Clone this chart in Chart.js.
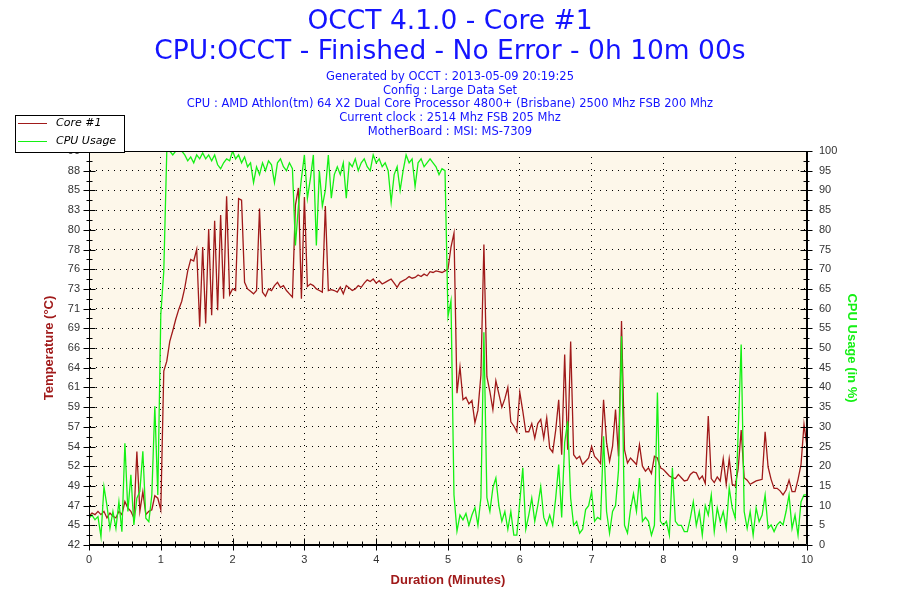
<!DOCTYPE html>
<html>
<head>
<meta charset="utf-8">
<script src="https://cdn.jsdelivr.net/npm/chart.js@4.4.0/dist/chart.umd.min.js"></script>
<style>
  html, body { margin: 0; padding: 0; background: #ffffff; }
  #wrap { width: 900px; height: 600px; }
</style>
</head>
<body>
<div id="wrap"><canvas id="c" width="900" height="600"></canvas></div>
<script>
// ---- DATA ----
const sampleSeconds = 2.5; // one sample every 2.5 s, 0 .. 10 min
const tempC = [
  45.5,45.9,45.7,46.1,45.7,46.1,45.3,45.9,45.5,45.3,
  46.1,45.7,47.3,46.5,46.1,45.3,53.4,46.1,48.5,45.7,
  46.1,46.3,48.0,47.7,46.3,63.2,64.4,66.8,68.1,69.5,
  70.7,71.7,73.3,75.4,76.8,76.6,78.0,68.6,78.3,69.0,
  80.5,70.0,81.5,70.6,82.2,72.0,84.5,72.5,73.2,73.0,
  84.2,84.0,74.0,73.2,72.9,72.6,73.0,83.0,72.8,72.3,
  73.2,73.0,73.6,74.0,73.4,73.6,73.0,72.6,72.2,83.4,
  85.5,72.0,84.4,73.5,73.8,73.6,73.2,73.0,72.8,83.3,
  73.0,73.1,73.0,72.8,73.4,72.6,73.6,73.3,73.0,73.2,
  73.6,73.4,73.9,74.3,74.1,74.4,73.9,74.2,73.8,74.0,
  74.2,74.4,73.9,73.4,74.0,74.2,74.4,74.7,74.5,74.6,
  74.9,74.7,75.0,74.8,75.3,75.2,75.4,75.3,75.2,75.4,
  75.6,78.3,80.0,60.5,63.7,59.7,60.0,59.2,59.6,56.9,
  58.4,62.7,78.6,62.5,60.7,58.5,62.0,60.4,58.8,59.8,
  61.2,57.0,56.5,55.8,60.6,58.3,55.8,55.8,56.8,55.0,
  56.8,57.3,55.0,57.5,53.8,53.3,56.0,59.7,53.0,65.2,
  53.6,66.8,53.0,52.5,52.8,51.8,52.2,52.6,54.0,52.8,
  52.4,51.9,59.7,54.5,52.2,54.0,58.5,52.8,69.3,53.6,
  52.0,52.6,52.2,51.8,54.2,51.6,51.0,51.4,50.7,52.8,
  52.6,51.4,51.2,50.8,50.4,50.2,50.1,50.6,50.2,49.8,
  49.9,50.6,50.9,50.8,50.0,50.4,49.5,57.7,50.1,49.6,
  50.3,49.8,52.5,49.4,52.5,49.4,49.2,51.3,56.0,50.2,
  49.9,49.4,49.6,49.8,49.9,50.0,55.8,51.5,50.0,48.9,
  48.9,48.6,48.1,48.7,49.9,48.5,48.5,50.0,51.8,56.7,
  54.0
];
const cpuUsage = [
  6.8,7.6,6.4,7.2,2.1,14.8,10,4.2,8.5,4.2,
  11.0,3.4,25.8,8.5,17.8,5.1,11.9,13.6,23.8,6.8,
  5.9,12.7,35.2,12.7,58.5,69.5,100,100,99,100,
  100,100,99,97.5,98.5,97,99,98,99.5,98,
  99,97.5,99,96.5,95.5,97,98,97.5,100,98,
  99,97,98.5,96,97,92,96,94,97,95,
  97.5,96.5,92,97,98,96,95,97,95.5,76,
  86,93,99,88,93,99,76,95,86,90,
  99,88,94,96,94,97,88,97,96,98,
  95,97,98,96,95,99,97,98,96,97,
  95,87,94,96,90,95,99,97,98,91,
  97,98,96,97,98,97,96,94,95.5,95,
  58,62,12.7,3.5,7.6,6.4,8,5,7.6,9.5,
  5,12,54,12,8.5,14.5,17,10,6,8.5,
  4,8.5,2.5,2.5,11,19.6,4,7.6,11.9,6,
  10,14.8,7,5,7.6,5,11.9,20.4,7,26,
  31.4,11.9,5,6,3,4,9,10,13.6,6,
  7,6.5,27.6,8.5,3,8.5,10,19,53,5,
  3,9,13,8.5,17,6,7,6,2.5,5,
  38.7,6,5,6,2.5,19.6,6,5,5,3.4,
  3.4,6.8,11,5,8.5,2.5,10,7.6,12.7,3.4,
  9.4,5.9,8.5,4.2,14.5,9.4,6.8,28.8,50.9,8.5,
  4.2,8.5,2.5,9.4,5.9,7.6,12.7,4.2,5.1,3.4,
  5.1,5.9,5.1,8.5,12.7,4.2,7.6,2.5,11,12.7,
  12.7
];
const tempTickValues = [42,44.4,46.8,49.2,51.6,54,56.4,58.8,61.2,63.6,66,68.4,70.8,73.2,75.6,78,80.4,82.8,85.2,87.6,90];
const tempTickLabels = ['42','45','47','49','52','54','57','59','61','64','66','69','71','73','76','78','80','83','85','88','90'];
const titleLines = ['OCCT 4.1.0 - Core #1', 'CPU:OCCT - Finished - No Error - 0h 10m 00s'];
const subtitleLines = [
  'Generated by OCCT : 2013-05-09 20:19:25',
  'Config : Large Data Set',
  'CPU : AMD Athlon(tm) 64 X2 Dual Core Processor 4800+ (Brisbane) 2500 Mhz FSB 200 Mhz',
  'Current clock : 2514 Mhz FSB 205 Mhz',
  'MotherBoard : MSI: MS-7309'
];

// ---- BUILD ----
const minutes = tempC.map((_, i) => i * sampleSeconds / 60);
const tempPoints = tempC.map((v, i) => ({ x: minutes[i], y: v }));
const cpuPoints = cpuUsage.map((v, i) => ({ x: minutes[i], y: v }));

const RED = '#A01A1A';
const GREEN = '#14F014';
const TICKFONT = { family: "'Liberation Sans Narrow','Liberation Sans',Arial,sans-serif", size: 11 };
const AXTITLEFONT = { family: "'Liberation Sans Narrow','Liberation Sans',Arial,sans-serif", size: 13, weight: 'bold', lineHeight: 1.2 };

const framePlugin = {
  id: 'occtFrame',
  beforeDraw(chart) {
    const { ctx, chartArea: a } = chart;
    ctx.save();
    ctx.fillStyle = '#FDF7EA';
    ctx.fillRect(a.left, a.top, a.right - a.left, a.bottom - a.top);
    ctx.restore();
  },
  afterDraw(chart) {
    const { ctx, chartArea: a, scales } = chart;
    ctx.save();
    ctx.strokeStyle = '#000';
    ctx.lineWidth = 1;
    const L = Math.round(a.left) + 0.5, R = Math.round(a.right) - 0.5;
    const T = Math.round(a.top) + 0.5, B = Math.round(a.bottom) - 0.5;
    ctx.beginPath();
    ctx.moveTo(L, B); ctx.lineTo(L, T); ctx.lineTo(R, T); ctx.lineTo(R, B); ctx.lineTo(L, B);
    ctx.stroke();
    // x ticks (major each minute, minor each 0.2 min)
    ctx.beginPath();
    for (let k = 0; k <= 50; k++) {
      const px = Math.round(scales.x.getPixelForValue(k / 5)) + 0.5;
      const len = (k % 5 === 0) ? 6 : 3;
      ctx.moveTo(px, B - len); ctx.lineTo(px, B + len);
    }
    // y ticks left and right
    const yl = scales.y;
    for (let k = 0; k < tempTickValues.length; k++) {
      const py = Math.round(yl.getPixelForValue(tempTickValues[k])) + 0.5;
      ctx.moveTo(L - 6, py); ctx.lineTo(L + 6, py);
      ctx.moveTo(R - 6, py); ctx.lineTo(R + 6, py);
      if (k < tempTickValues.length - 1) {
        const pm = Math.round(yl.getPixelForValue((tempTickValues[k] + tempTickValues[k + 1]) / 2)) + 0.5;
        ctx.moveTo(L - 3, pm); ctx.lineTo(L + 3, pm);
        ctx.moveTo(R - 3, pm); ctx.lineTo(R + 3, pm);
      }
    }
    ctx.stroke();
    // legend box
    const ds = chart.data.datasets;
    ctx.fillStyle = '#fff';
    ctx.fillRect(15.5, 115.5, 109, 37);
    ctx.strokeStyle = '#000';
    ctx.strokeRect(15.5, 115.5, 109, 37);
    ctx.font = "italic 11px 'DejaVu Sans', Verdana, sans-serif";
    ctx.textBaseline = 'middle';
    ctx.textAlign = 'left';
    ds.forEach((d, i) => {
      const y = 123.5 + i * 18;
      ctx.strokeStyle = d.borderColor;
      ctx.lineWidth = 1;
      ctx.beginPath(); ctx.moveTo(18, y); ctx.lineTo(47, y); ctx.stroke();
      ctx.fillStyle = '#000';
      ctx.fillText(d.label, 56, y);
    });
    ctx.restore();
  }
};

new Chart(document.getElementById('c'), {
  type: 'line',
  data: {
    datasets: [
      { label: 'Core #1', data: tempPoints, yAxisID: 'y', borderColor: RED, backgroundColor: RED,
        borderWidth: 1.3, pointRadius: 0, tension: 0, order: 1 },
      { label: 'CPU Usage', data: cpuPoints, yAxisID: 'y2', borderColor: GREEN, backgroundColor: GREEN,
        borderWidth: 1.3, pointRadius: 0, tension: 0, order: 0 }
    ]
  },
  options: {
    responsive: false,
    animation: false,
    devicePixelRatio: 1,
    layout: { padding: 0 },
    plugins: {
      legend: { display: false },
      tooltip: { enabled: false },
      title: {
        display: true, text: titleLines, color: '#1414FF',
        font: { family: "'DejaVu Sans', Verdana, sans-serif", size: 26.5, weight: 'normal', lineHeight: '30px' },
        padding: { top: 7, bottom: 0 }
      },
      subtitle: {
        display: true, text: subtitleLines, color: '#1414FF',
        font: { family: "'DejaVu Sans', Verdana, sans-serif", size: 11.5, weight: 'normal', lineHeight: '13.8px' },
        padding: { top: 3, bottom: 12 }
      }
    },
    scales: {
      x: {
        type: 'linear', min: 0, max: 10,
        ticks: { stepSize: 1, autoSkip: false, color: '#333', font: TICKFONT, padding: 8, maxRotation: 0 },
        grid: { color: '#000', lineWidth: 1, drawTicks: false },
        border: { display: true, color: '#000', dash: [1, 5] },
        title: { display: true, text: 'Duration (Minutes)', color: '#A01A1A', font: AXTITLEFONT, padding: { top: 0, bottom: 12 } },
        afterFit(scale) { scale.height = 55; }
      },
      y: {
        type: 'linear', position: 'left', min: 42, max: 90,
        afterBuildTicks(scale) { scale.ticks = tempTickValues.map(v => ({ value: v })); },
        ticks: { autoSkip: false, color: '#333', font: TICKFONT, padding: 9,
          callback: (value, index) => tempTickLabels[index] },
        grid: { color: '#000', lineWidth: 1, drawTicks: false },
        border: { display: true, color: '#000', dash: [1, 5] },
        title: { display: true, text: 'Temperature (°C)', color: '#A01A1A', font: AXTITLEFONT, padding: { top: 42, bottom: 0 } },
        afterFit(scale) { scale.width = 89; }
      },
      y2: {
        type: 'linear', position: 'right', min: 0, max: 100,
        ticks: { stepSize: 5, autoSkip: false, color: '#333', font: TICKFONT, padding: 12 },
        grid: { drawOnChartArea: false, drawTicks: false },
        border: { display: true, color: '#000' },
        title: { display: true, text: 'CPU Usage (in %)', color: '#14F014', font: AXTITLEFONT, padding: { top: 41, bottom: 0 } },
        afterFit(scale) { scale.width = 93; }
      }
    }
  },
  plugins: [framePlugin]
});
</script>
</body>
</html>
